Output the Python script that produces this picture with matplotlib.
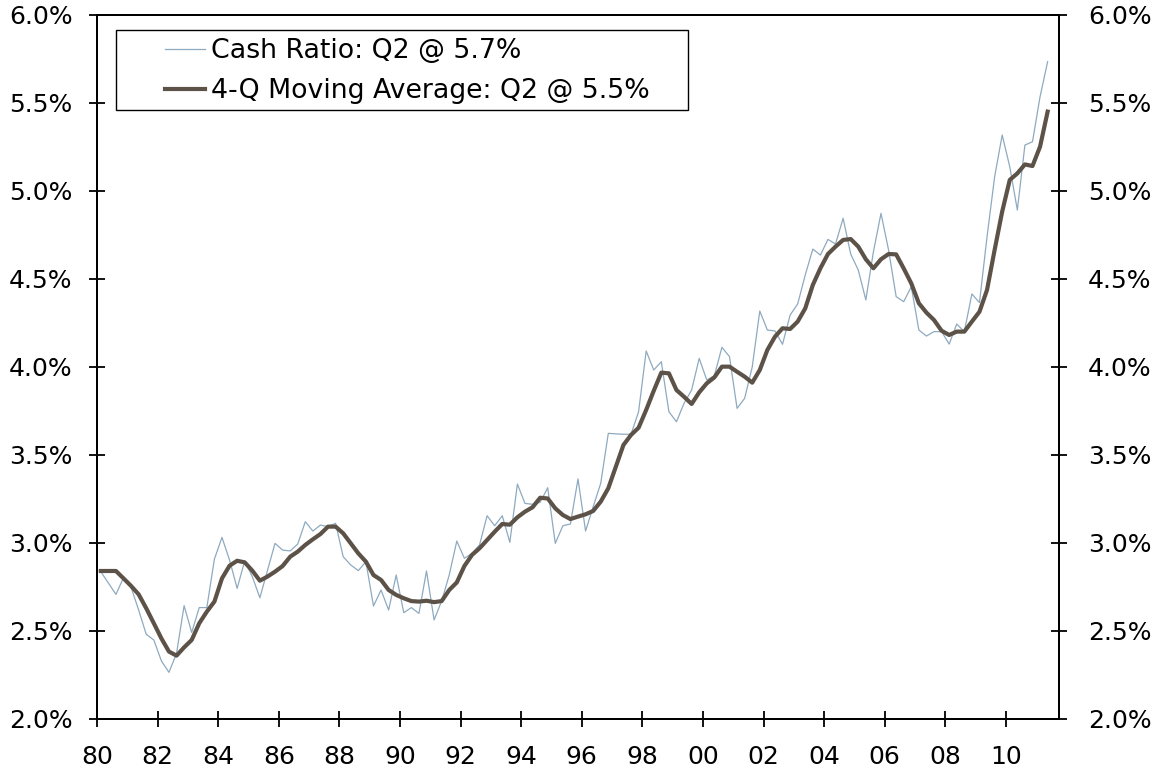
import matplotlib
matplotlib.use("Agg")
import matplotlib.pyplot as plt
from matplotlib.patches import Rectangle
from matplotlib.ticker import FixedLocator, FuncFormatter

# Quarterly data, 1980 Q1 .. 2011 Q2 (percent)
cash_ratio = [
    2.837, 2.773, 2.708, 2.803, 2.748, 2.619, 2.481, 2.449, 2.330, 2.265,
    2.373, 2.644, 2.492, 2.633, 2.633, 2.909, 3.032, 2.903, 2.742, 2.898,
    2.809, 2.689, 2.843, 2.998, 2.960, 2.955, 2.994, 3.121, 3.068, 3.102,
    3.093, 3.112, 2.922, 2.875, 2.843, 2.894, 2.642, 2.733, 2.619, 2.818,
    2.604, 2.633, 2.600, 2.841, 2.563, 2.670, 2.818, 3.011, 2.913, 2.941,
    2.989, 3.155, 3.098, 3.155, 3.004, 3.335, 3.225, 3.220, 3.231, 3.314,
    2.998, 3.098, 3.108, 3.364, 3.068, 3.206, 3.339, 3.623, 3.620, 3.618,
    3.618, 3.746, 4.091, 3.983, 4.030, 3.746, 3.689, 3.794, 3.869, 4.049,
    3.926, 3.950, 4.112, 4.059, 3.765, 3.822, 4.000, 4.318, 4.210, 4.205,
    4.129, 4.295, 4.358, 4.523, 4.670, 4.636, 4.725, 4.699, 4.845, 4.642,
    4.551, 4.381, 4.655, 4.873, 4.665, 4.400, 4.371, 4.456, 4.210, 4.176,
    4.201, 4.201, 4.130, 4.244, 4.201, 4.415, 4.366, 4.740, 5.080, 5.318,
    5.138, 4.892, 5.261, 5.280, 5.536, 5.735,
]

moving_avg = [
    2.841, 2.841, 2.841, 2.799, 2.756, 2.708, 2.629, 2.544, 2.458, 2.383,
    2.360, 2.407, 2.449, 2.544, 2.610, 2.667, 2.799, 2.871, 2.899, 2.890,
    2.843, 2.786, 2.809, 2.837, 2.869, 2.922, 2.951, 2.989, 3.021, 3.051,
    3.093, 3.093, 3.055, 2.998, 2.941, 2.894, 2.818, 2.790, 2.733, 2.705,
    2.686, 2.670, 2.667, 2.672, 2.664, 2.670, 2.733, 2.776, 2.869, 2.932,
    2.970, 3.017, 3.064, 3.108, 3.104, 3.146, 3.178, 3.203, 3.257, 3.253,
    3.197, 3.159, 3.136, 3.150, 3.163, 3.182, 3.235, 3.311, 3.434, 3.557,
    3.614, 3.655, 3.756, 3.865, 3.968, 3.964, 3.869, 3.831, 3.790, 3.856,
    3.907, 3.941, 4.002, 4.002, 3.973, 3.945, 3.911, 3.983, 4.097, 4.172,
    4.220, 4.216, 4.258, 4.333, 4.466, 4.561, 4.642, 4.684, 4.722, 4.727,
    4.684, 4.612, 4.561, 4.612, 4.642, 4.640, 4.560, 4.475, 4.362, 4.309,
    4.267, 4.206, 4.182, 4.201, 4.201, 4.258, 4.314, 4.438, 4.665, 4.883,
    5.063, 5.100, 5.151, 5.142, 5.252, 5.451,
]

year_labels = ["80", "82", "84", "86", "88", "90", "92", "94",
               "96", "98", "00", "02", "04", "06", "08", "10"]
y_ticks = [2.0, 2.5, 3.0, 3.5, 4.0, 4.5, 5.0, 5.5, 6.0]

label_cash = "Cash Ratio: Q2 @ 5.7%"
label_ma = "4-Q Moving Average: Q2 @ 5.5%"

plt.rcParams["font.family"] = ["DejaVu Sans"]
FS = 18
FS_LEG = 19.3

W, H = 1153, 775
fig = plt.figure(figsize=(W / 100, H / 100), dpi=100)
L, R, T, B = 97, 1059, 15, 719
ax = fig.add_axes([L / W, 1 - B / H, (R - L) / W, (B - T) / H])

x = list(range(len(cash_ratio)))
ax.plot(x, cash_ratio, color="#8eaac0", lw=0.9, label=label_cash, zorder=2)
ax.plot(x, moving_avg, color="#5c5248", lw=3.0, label=label_ma, zorder=3)

ax.set_xlim(-0.5, 126.5)
ax.set_ylim(2.0, 6.0)

ax.xaxis.set_major_locator(FixedLocator([-0.5 + 8 * k for k in range(len(year_labels))]))
ax.set_xticklabels(year_labels)
ax.set_yticks(y_ticks)
pct = FuncFormatter(lambda v, p: f"{v:.1f}%")
ax.yaxis.set_major_formatter(pct)

for s in ax.spines.values():
    s.set_linewidth(1.4)
    s.set_color("black")

ax.tick_params(axis="y", which="major", direction="inout", length=11, width=1.3,
               labelsize=FS, pad=12, left=True, right=False,
               labelleft=True, labelright=False)
ax.tick_params(axis="x", which="major", direction="inout", length=11, width=1.3,
               labelsize=FS, pad=13.5)

# right-hand percentage axis (same scale)
ax2 = ax.twinx()
ax2.set_ylim(ax.get_ylim())
ax2.set_yticks(y_ticks)
ax2.yaxis.set_major_formatter(pct)
ax2.tick_params(axis="y", which="major", direction="inout", length=11, width=1.3,
                labelsize=FS, pad=15.5)
for s in ax2.spines.values():
    s.set_linewidth(1.4)

# legend frame (drawn separately) and frameless legend inside
bx0, by0, bx1, by1 = 116, 30, 688, 110
ax2.add_patch(Rectangle(((bx0 - L) / (R - L), (B - by1) / (B - T)),
                        (bx1 - bx0) / (R - L), (by1 - by0) / (B - T),
                        transform=ax2.transAxes, fill=True, facecolor="white",
                        edgecolor="black", lw=1.0, zorder=4))
handles, labels = ax.get_legend_handles_labels()
leg = ax2.legend(handles, labels, loc="upper left",
                 bbox_to_anchor=((165 - L) / (R - L), (B - 38) / (B - T)),
                 frameon=False, fontsize=FS_LEG, handlelength=1.5,
                 handletextpad=0.2, labelspacing=0.54, borderpad=0.0,
                 borderaxespad=0.0)
leg.set_zorder(5)

fig.savefig("out.png", dpi=100)
